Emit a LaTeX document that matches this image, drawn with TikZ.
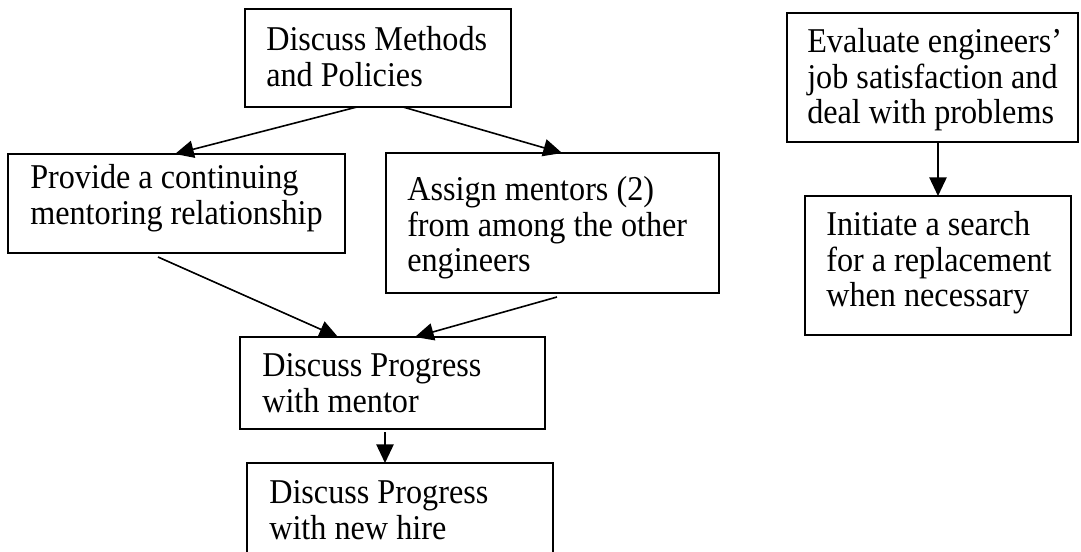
\documentclass[tikz,border=0pt]{standalone}
\usepackage{fontspec}
\setmainfont{Liberation Serif}
\usetikzlibrary{calc,arrows.meta}
\tikzset{
  box/.style={draw, line width=1.5pt, inner sep=0pt, outer sep=0pt},
  txt/.style={font=\fontsize{24.15pt}{24.8pt}\selectfont, align=left, inner sep=0pt, anchor=north west, yscale=1.08},
  conn/.style={line width=1.2pt, -{Triangle[length=14pt,width=13pt]}}
}
\begin{document}
\begin{tikzpicture}[x=0.75pt,y=-0.75pt]
\useasboundingbox (0,0) rectangle (1081,552);
\clip (0,0) rectangle (1081,552);
\fill[white] (0,0) rectangle (1081,552);
% boxes
\node[box, minimum width=199.5pt, minimum height=73.5pt] (b1) at (378,58) {};
\node[box, minimum width=252.75pt, minimum height=74.25pt] (b2) at (176.5,203.5) {};
\node[box, minimum width=249.75pt, minimum height=105pt] (b3) at (552.5,223) {};
\node[box, minimum width=228.75pt, minimum height=69pt] (b4) at (392.5,383) {};
\node[box, minimum width=229.5pt, minimum height=90pt] (b5) at (400,523) {};
\node[box, minimum width=218.25pt, minimum height=96.75pt] (b6) at (932.5,77.5) {};
\node[box, minimum width=199.5pt, minimum height=104.25pt] (b7) at (938,265.5) {};
% texts
\node[txt] (t1) at (266,26) {Discuss Methods\\and Policies};
\node[txt] (t2) at (30,164) {Provide a continuing\\mentoring relationship};
\node[txt] (t3) at (407,176) {Assign mentors (2)\\from among the other\\engineers};
\node[txt] (t4) at (262,353) {Discuss Progress\\with mentor};
\node[txt] (t5) at (269,480) {Discuss Progress\\with new hire};
\node[txt] (t6) at (807,28) {Evaluate engineers’\\job satisfaction and\\deal with problems};
\node[txt] (t7) at (826,211) {Initiate a search\\for a replacement\\when necessary};
% connectors
\draw[conn] ($(b1.south)+(-21,0)$) -- ($(b2.north)+(-1.5,0)$);
\draw[conn] ($(b1.south)+(25,0)$) -- ($(b3.north)+(9.5,0)$);
\draw[conn] ($(b2.south)+(-18.5,4)$) -- ($(b4.north)+(-54.5,0)$);
\draw[conn] ($(b3.south)+(4.5,4)$) -- ($(b4.north)+(22.5,0)$);
\draw[conn] ($(b4.south)+(-7.5,3)$) -- ($(b5.north)+(-15,0)$);
\draw[conn] ($(b6.south)+(5.5,0)$) -- (b7.north);
\end{tikzpicture}
\end{document}
